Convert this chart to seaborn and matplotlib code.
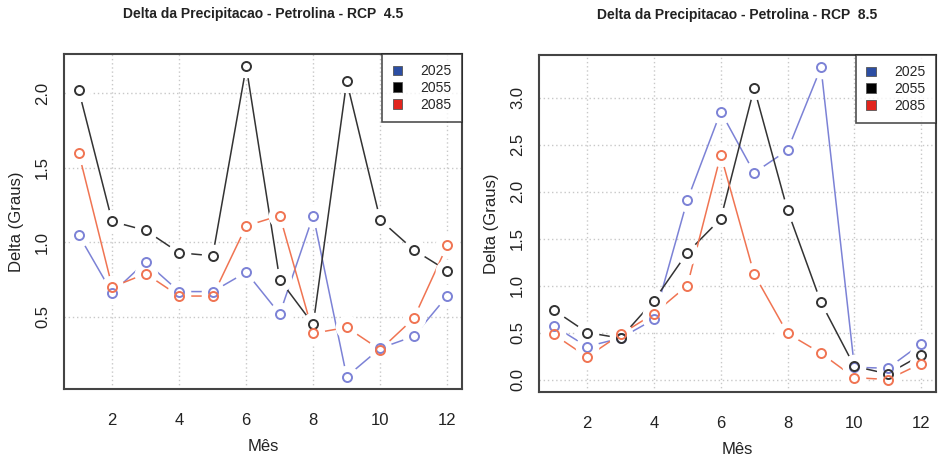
import pandas as pd
import matplotlib
matplotlib.use("Agg")
import matplotlib.pyplot as plt
import matplotlib.patches as mpatches
import seaborn as sns

meses = list(range(1, 13))
anos = ["2025", "2055", "2085"]

# RCP 4.5
rcp45_2025 = [1.05, 0.66, 0.87, 0.67, 0.67, 0.80, 0.52, 1.18, 0.10, 0.29, 0.37, 0.64]
rcp45_2055 = [2.02, 1.14, 1.08, 0.93, 0.91, 2.18, 0.75, 0.45, 2.08, 1.15, 0.95, 0.81]
rcp45_2085 = [1.60, 0.70, 0.79, 0.64, 0.64, 1.11, 1.18, 0.39, 0.43, 0.28, 0.49, 0.98]

# RCP 8.5
rcp85_2025 = [0.57, 0.35, 0.44, 0.64, 1.91, 2.85, 2.20, 2.44, 3.32, 0.13, 0.12, 0.38]
rcp85_2055 = [0.74, 0.50, 0.44, 0.84, 1.35, 1.71, 3.10, 1.80, 0.82, 0.14, 0.06, 0.26]
rcp85_2085 = [0.48, 0.24, 0.48, 0.70, 1.00, 2.39, 1.12, 0.49, 0.28, 0.02, 0.00, 0.17]

cores_linha = {"2025": "#7c82d6", "2055": "#333333", "2085": "#f07452"}
cores_legenda = {"2025": "#2c4ea3", "2055": "#000000", "2085": "#e2241d"}


def monta_df(s2025, s2055, s2085):
    partes = []
    for ano, vals in zip(anos, [s2025, s2055, s2085]):
        partes.append(pd.DataFrame({"Mes": meses, "Delta": vals, "Ano": ano}))
    return pd.concat(partes, ignore_index=True)


def painel(ax, df, titulo, yticks):
    sns.lineplot(data=df, x="Mes", y="Delta", hue="Ano", palette=cores_linha,
                 linewidth=1.1, legend=False, ax=ax, zorder=2)
    # halo branco para imitar o type="b" do R
    for ano in anos:
        d = df[df["Ano"] == ano]
        ax.plot(d["Mes"], d["Delta"], "o", ms=17, mfc="white", mec="none", zorder=3)
    for ano in anos:
        d = df[df["Ano"] == ano]
        ax.plot(d["Mes"], d["Delta"], "o", ms=6.5, mfc="none",
                mec=cores_linha[ano], mew=1.4, zorder=4)

    lo, hi = df["Delta"].min(), df["Delta"].max()
    pad = (hi - lo) * 0.04
    ax.set_ylim(lo - pad, hi + pad)
    ax.set_xlim(0.56, 12.44)
    ax.set_xticks(range(2, 13, 2))
    ax.set_yticks(yticks)
    ax.set_yticklabels([f"{v:.1f}" for v in yticks], rotation=90, va="center")
    ax.grid(True, color="#c8c8c8", linestyle=(0, (1, 2)), linewidth=1.0)
    ax.set_axisbelow(True)
    for sp in ax.spines.values():
        sp.set_color("#444444")
        sp.set_linewidth(1.5)
        sp.set_zorder(6)
    ax.tick_params(axis="both", direction="out", length=7, width=1.4,
                   color="#444444", labelsize=12, labelcolor="#222222")
    ax.tick_params(axis="x", pad=10)
    ax.tick_params(axis="y", pad=3)
    ax.set_xlabel("Mês", fontsize=12, color="#222222", labelpad=8)
    ax.set_ylabel("Delta (Graus)", fontsize=12, color="#222222", labelpad=8)
    ax.set_title(titulo, fontsize=10, fontweight="bold", color="#222222", pad=26)

    handles = [mpatches.Patch(facecolor=cores_legenda[a], edgecolor="#555555",
                              linewidth=0.6, label=a) for a in anos]
    leg = ax.legend(handles=handles, loc="upper right", bbox_to_anchor=(1.0, 1.0),
                    borderaxespad=0, fontsize=10, frameon=True, fancybox=False,
                    handlelength=0.7, handleheight=0.7, handletextpad=1.3,
                    labelspacing=0.2, borderpad=0.75)
    leg.get_frame().set_edgecolor("#222222")
    leg.get_frame().set_linewidth(1.2)
    leg.set_zorder(7)


sns.set_style("white")
plt.rcParams["font.family"] = ["Liberation Sans", "DejaVu Sans"]

fig = plt.figure(figsize=(9.38, 4.61), dpi=100)
ax1 = fig.add_axes([0.0682, 0.1562, 0.4243, 0.7267])
ax2 = fig.add_axes([0.5746, 0.1497, 0.4232, 0.7310])

df45 = monta_df(rcp45_2025, rcp45_2055, rcp45_2085)
df85 = monta_df(rcp85_2025, rcp85_2055, rcp85_2085)

painel(ax1, df45, "Delta da Precipitacao - Petrolina - RCP  4.5", [0.5, 1.0, 1.5, 2.0])
painel(ax2, df85, "Delta da Precipitacao - Petrolina - RCP  8.5",
       [0.0, 0.5, 1.0, 1.5, 2.0, 2.5, 3.0])

fig.savefig("out.png", dpi=100)
plt.close(fig)
